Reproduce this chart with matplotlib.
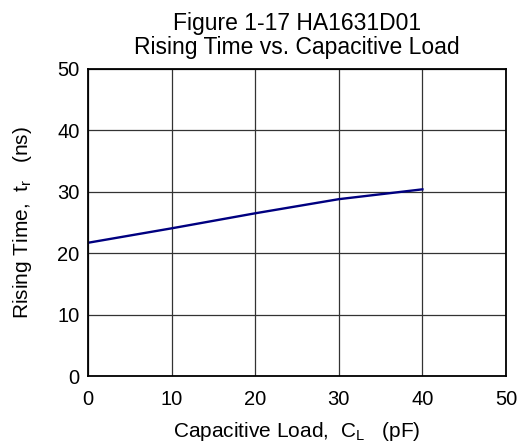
import matplotlib
matplotlib.use('Agg')
import matplotlib.pyplot as plt

plt.rcParams['font.family'] = ['Liberation Sans', 'DejaVu Sans']
plt.rcParams['mathtext.fontset'] = 'custom'
plt.rcParams['mathtext.rm'] = 'Liberation Sans'

# data
load_pf = [0, 10, 20, 30, 40]
rise_ns = [21.7, 24.05, 26.5, 28.8, 30.4]
ticks = [0, 10, 20, 30, 40, 50]

fig = plt.figure(figsize=(5.22, 4.48), dpi=100)
ax = fig.add_axes([0.1686, 0.1607, 0.8007, 0.6853])

ax.plot(load_pf, rise_ns, color='#000080', linewidth=1.7)

ax.set_xlim(0, 50)
ax.set_ylim(0, 50)
ax.set_xticks(ticks)
ax.set_yticks(ticks)
ax.grid(True, color='#333333', linewidth=0.9)
ax.tick_params(length=0, labelsize=14.5)
ax.tick_params(axis='y', pad=6)
ax.tick_params(axis='x', pad=10)
for s in ax.spines.values():
    s.set_linewidth(1.3)
    s.set_color('black')

ax.set_title('Figure 1-17 HA1631D01\nRising Time vs. Capacitive Load',
             fontsize=16.5, pad=11, linespacing=1.05)
ax.set_xlabel(r'Capacitive Load,  C$\mathregular{_L}$   (pF)', fontsize=15, labelpad=8)
ax.set_ylabel(r'Rising Time,  t$\mathregular{_r}$   (ns)', fontsize=15, labelpad=17)

fig.savefig('out.png', dpi=100)
